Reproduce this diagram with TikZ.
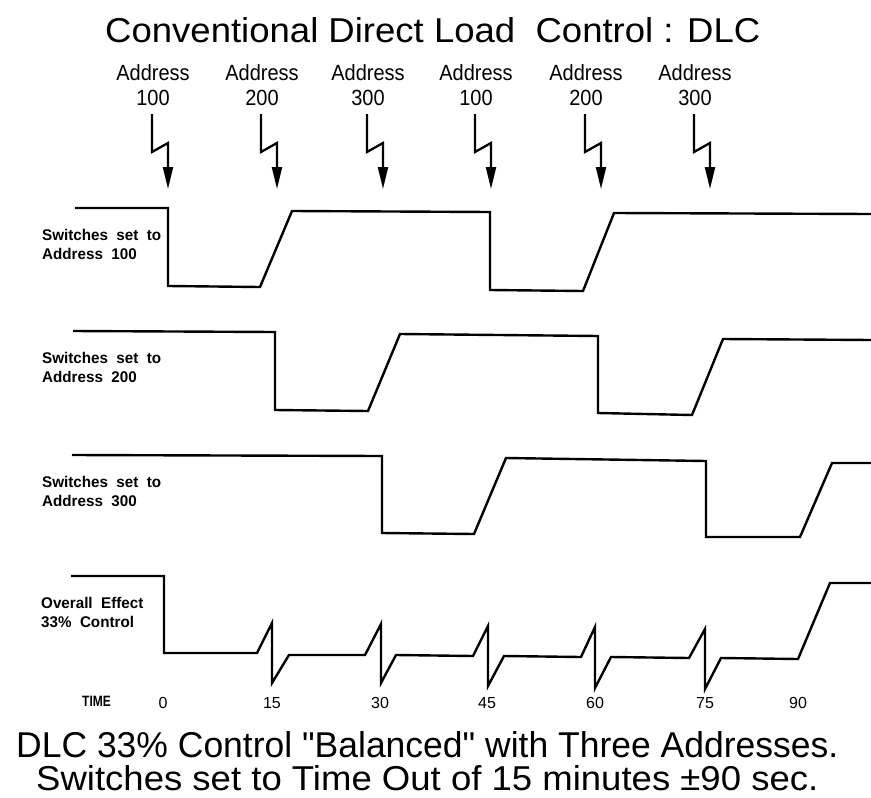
\documentclass[tikz,border=0pt]{standalone}
\usepackage{fontspec}
\setmainfont{Liberation Sans}
\usetikzlibrary{arrows.meta}
\begin{document}
\begin{tikzpicture}[x=1pt,y=-1pt,
  wave/.style={line width=2.4pt, line join=miter, line cap=butt},
  bolt/.style={line width=2.3pt, -{Triangle[length=22pt,width=10pt]}},
  addr/.style={font=\fontsize{20}{25}\selectfont, align=center, inner sep=0pt, anchor=base},
  lab/.style={inner sep=0pt, anchor=base west},
  tnum/.style={font=\fontsize{16}{18}\selectfont, inner sep=0pt, anchor=base},
  tline/.style={inner sep=0pt, anchor=base west}]
\useasboundingbox (0,0) rectangle (871,798);
\fill[white] (0,0) rectangle (871,798);

% title
\node[tline] (title) at (105,42) {\resizebox{655pt}{25pt}{Conventional Direct Load\ \ Control : DLC}};

% address labels and lightning arrows
\foreach \i/\xx/\num in {1/168/100, 2/277/200, 3/383/300, 4/491/100, 5/601/200, 6/710/300}{
  \node[addr] (a\i) at (\xx-15,80) {\scalebox{1}[1.1]{Address}};
  \node[addr] (n\i) at (\xx-15,105) {\scalebox{1}[1.1]{\num}};
  \coordinate (s\i) at (\xx-16,114);
  \coordinate (t\i) at (\xx,189);
  \draw[bolt] (s\i) -- ++(0,38) -- ++(16,-9) -- (t\i);
}

% waveform labels
\newcommand{\smlab}[2]{\scalebox{0.98}[1]{\fontsize{15.5}{19}\selectfont\bfseries\begin{tabular}{@{}l@{}}#1\\#2\end{tabular}}}
\node[lab, anchor=north west] (l1) at (42,227) {\smlab{Switches\ \ set\ \ to}{Address\ \ 100}};
\node[lab, anchor=north west] (l2) at (42,350) {\smlab{Switches\ \ set\ \ to}{Address\ \ 200}};
\node[lab, anchor=north west] (l3) at (42,474) {\smlab{Switches\ \ set\ \ to}{Address\ \ 300}};
\node[lab, anchor=north west] (l4) at (41,595) {\smlab{Overall\ \ Effect}{33\%\ \ Control}};

% waveforms
\draw[wave] (75,208) -- (168,208) -- (168,286) -- (260,287) -- (292,211) -- (490,212)
  -- (490,290) -- (583,291) -- (614,213) -- (871,214);
\draw[wave] (73,331) -- (275,332) -- (275,410) -- (368,411) -- (400,334) -- (598,336)
  -- (598,413) -- (692,415) -- (723,339) -- (871,340);
\draw[wave] (72,455) -- (382,456) -- (382,533) -- (474,534) -- (506,458) -- (706,461)
  -- (706,537) -- (800,537) -- (832,463) -- (871,463);
\draw[wave] (71,576) -- (164,576) -- (164,653) -- (257,653) -- (272,623) -- (272,683)
  -- (289,655) -- (365,655) -- (381,624) -- (381,683) -- (396,655) -- (473,656)
  -- (488,626) -- (488,686) -- (504,656) -- (581,657) -- (595,627) -- (595,688)
  -- (611,657) -- (689,658) -- (705,629) -- (705,689) -- (721,658) -- (798,659)
  -- (830,583) -- (871,583);

% time axis labels
\node[lab, font=\fontsize{15}{16}\selectfont\bfseries] (time) at (82,706) {\scalebox{0.8}[1]{TIME}};
\foreach \xx/\t in {163/0, 272/15, 380/30, 487/45, 595/60, 705/75, 798/90}{
  \node[tnum] (tm\t) at (\xx,708) {\t};
}

% caption
\node[tline] (cap1) at (16,757) {\resizebox{822pt}{26pt}{DLC 33\% Control \textquotedbl Balanced\textquotedbl{} with Three Addresses.}};
\node[tline] (cap2) at (36,790) {\resizebox{782pt}{25pt}{Switches set to Time Out of 15 minutes ±90 sec.}};
\end{tikzpicture}
\end{document}
